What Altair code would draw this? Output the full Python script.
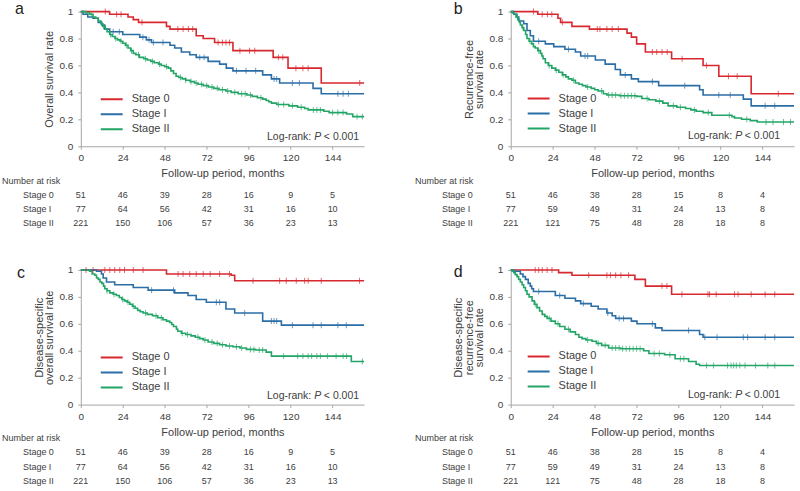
import altair as alt
import pandas as pd
from bisect import bisect_right

FONT = "Liberation Sans"
TEXT = "#404040"
AXIS = "#a6a6a6"

stages = ["Stage 0", "Stage I", "Stage II"]
stage_colors = ["#d7282f", "#2b6ea6", "#22a566"]

x_max = 162
x_ticks = [0, 24, 48, 72, 96, 120, 144]
y_ticks = [0, 0.2, 0.4, 0.6, 0.8, 1]
risk_times = [0, 24, 48, 72, 96, 120, 144]

# ---- a: overall survival (month, survival after the step) ----
a_stage0 = [(0, 1.0), (16.5, 0.98), (27, 0.96), (30, 0.94), (33, 0.92), (49, 0.89), (51, 0.87),
            (66, 0.82), (70, 0.80), (76.5, 0.77), (87, 0.71), (110, 0.66), (118.5, 0.58), (137.5, 0.47)]
a_cens0 = [14, 20.5, 23, 35, 55.5, 58.5, 61.5, 64, 78.5, 81, 83, 85, 91, 96.5, 99.5, 113, 115.5,
           123, 127, 130, 159.5]
a_stage1 = [(0, 1.0), (1.3, 0.98), (4, 0.96), (7, 0.95), (10, 0.92), (12, 0.90), (13.7, 0.87),
            (16.5, 0.85), (24, 0.83), (33.7, 0.81), (37.5, 0.79), (40.4, 0.77), (51, 0.75), (53.7, 0.73),
            (57.5, 0.70), (62.3, 0.68), (66, 0.66), (72.8, 0.63), (79.4, 0.61), (83.2, 0.58), (87, 0.56),
            (104, 0.53), (109, 0.50), (113.7, 0.47), (132.8, 0.43), (137.5, 0.39)]
a_cens1 = [18.5, 22, 35.5, 39, 41.5, 47, 68, 70.5, 89, 94.5, 100, 110.5, 112, 121, 125, 147, 150, 153]
a_stage2 = [(0, 1.0), (3, 0.99), (5, 0.98), (7, 0.96), (8.5, 0.95), (10, 0.93), (11.5, 0.91), (12.5, 0.89),
            (14, 0.87), (15, 0.85), (16.5, 0.83), (18, 0.815), (19.5, 0.80), (21, 0.79), (22.5, 0.78),
            (24, 0.765), (25.5, 0.75), (27, 0.73), (28.5, 0.71), (30, 0.69), (31.5, 0.68), (33.5, 0.66),
            (36, 0.65), (38, 0.64), (40, 0.63), (42, 0.62), (44.5, 0.61), (46, 0.60), (48, 0.59), (50, 0.58),
            (51.5, 0.56), (53, 0.54), (54.5, 0.52), (56, 0.51), (58, 0.50), (60, 0.49), (62.5, 0.48),
            (65, 0.47), (67, 0.46), (70, 0.45), (73, 0.44), (76, 0.43), (79, 0.42), (83, 0.41), (86, 0.40),
            (90, 0.39), (95, 0.38), (98, 0.37), (101, 0.36), (104, 0.35), (106, 0.34), (107.5, 0.33),
            (109, 0.32), (112, 0.31), (119, 0.30), (124, 0.29), (128, 0.28), (130, 0.27), (139, 0.26),
            (142, 0.25), (152, 0.24), (155.5, 0.22)]
a_cens2 = [6, 13, 17, 20, 23, 26, 29, 33, 37, 41, 45, 49, 57, 60, 63, 66, 69, 72, 75, 78, 81, 84, 88,
           92, 94, 97, 103, 113, 116, 121, 126, 133, 135, 137, 144, 147, 150, 158, 161]

# ---- b: recurrence-free survival ----
b_stage0 = [(0, 1.0), (15.5, 0.98), (27, 0.95), (28.5, 0.92), (35, 0.89), (45, 0.87), (66.5, 0.84),
            (69, 0.81), (72, 0.76), (77, 0.70), (92, 0.65), (110, 0.60), (119, 0.52), (137.5, 0.39)]
b_cens0 = [13, 18, 21, 23.5, 29.5, 49.5, 51, 55, 58, 61.5, 81, 83.5, 86.5, 89.5, 98, 112, 124.5,
           129.5, 153]
b_stage1 = [(0, 1.0), (1.7, 0.98), (3.6, 0.96), (4.6, 0.93), (7.4, 0.91), (9.3, 0.86), (11.2, 0.82),
            (13, 0.78), (19.8, 0.76), (24.6, 0.74), (31, 0.72), (37, 0.70), (40, 0.67), (48.4, 0.64),
            (54, 0.61), (59.8, 0.57), (62.7, 0.53), (69, 0.50), (73, 0.48), (84.6, 0.45), (108, 0.42),
            (110, 0.38), (133, 0.35), (137.5, 0.30)]
b_cens1 = [16, 33, 42.5, 44, 65.5, 81, 99.5, 119, 125.5, 145.5, 151]
b_stage2 = [(0, 1.0), (1, 0.99), (2, 0.98), (3, 0.96), (4, 0.94), (5, 0.92), (5.5, 0.90), (6.5, 0.88),
            (7.5, 0.86), (8.5, 0.83), (9.3, 0.80), (10.5, 0.78), (12, 0.76), (13, 0.74), (14, 0.73),
            (15.5, 0.71), (17, 0.69), (17.8, 0.67), (18.5, 0.65), (19.8, 0.62), (21.5, 0.60), (23.5, 0.58),
            (25.5, 0.565), (27.5, 0.55), (29.5, 0.53), (31.5, 0.515), (33, 0.50), (35, 0.49), (37, 0.47),
            (39, 0.46), (41, 0.45), (43, 0.44), (46, 0.43), (48, 0.42), (50, 0.41), (53, 0.39), (55, 0.38),
            (62, 0.375), (72, 0.37), (75, 0.355), (79, 0.345), (83, 0.335), (87, 0.32), (90, 0.30),
            (95, 0.29), (100, 0.28), (103, 0.27), (106, 0.26), (110, 0.25), (115, 0.23), (126.5, 0.22),
            (128, 0.21), (132, 0.20), (137, 0.19), (141, 0.18)]
b_cens2 = [7, 11, 16, 22, 26, 30, 36, 44, 52, 56, 58, 60, 63, 65, 67, 69, 71, 78, 85, 93, 97, 105,
           113, 125, 135, 146, 150, 156, 160]

# ---- c: disease-specific overall survival ----
c_stage0 = [(0, 1.0), (49, 0.97), (86, 0.96), (88, 0.92)]
c_cens0 = [3, 7, 13.7, 16.6, 19.4, 22.3, 25, 30, 35.6, 55.6, 58.5, 62.3, 66, 70, 74, 79.4, 85, 98.5,
           113.7, 117.5, 123.2, 128, 130, 137.5, 159.4]
c_stage1 = [(0, 1.0), (9, 0.99), (11.8, 0.97), (12.8, 0.94), (14.7, 0.91), (19.4, 0.89), (30, 0.87),
            (38.5, 0.85), (53.7, 0.83), (61.3, 0.81), (66, 0.78), (71.8, 0.76), (83, 0.71), (88, 0.68),
            (104, 0.62), (114.7, 0.59)]
c_cens1 = [40.5, 53, 77.5, 79.4, 93.7, 109, 110.5, 112, 121, 132.8, 137.5, 147, 151.8]
c_stage2 = [(0, 1.0), (5, 0.99), (6.5, 0.97), (8, 0.96), (9, 0.94), (10, 0.93), (11, 0.91), (12, 0.90),
            (13, 0.88), (13.7, 0.86), (15, 0.845), (16.6, 0.83), (18.5, 0.82), (20.4, 0.81), (22, 0.795),
            (23.5, 0.78), (25, 0.77), (26.5, 0.76), (28, 0.745), (29.5, 0.73), (31, 0.715), (32.5, 0.70),
            (34, 0.69), (35.6, 0.68), (38, 0.67), (41, 0.66), (44, 0.645), (47, 0.63), (49, 0.62),
            (50.8, 0.61), (52, 0.595), (53, 0.58), (54.7, 0.56), (55.5, 0.545), (57.5, 0.53), (60, 0.52),
            (63, 0.51), (65.5, 0.50), (68, 0.49), (70, 0.48), (72.8, 0.465), (76, 0.455), (79.4, 0.445),
            (83, 0.435), (87, 0.43), (91, 0.42), (94.7, 0.41), (100, 0.405), (106, 0.39), (109, 0.36),
            (154.7, 0.32)]
c_cens2 = [15, 19, 24, 27, 30, 37, 43, 46, 58, 61, 67, 71, 75, 78, 81, 85, 89, 92, 97, 99, 102, 104,
           116, 124, 127, 130, 132, 135, 137, 141, 146, 150, 152, 161]

# ---- d: disease-specific recurrence-free survival ----
d_stage0 = [(0, 1.0), (27.4, 0.98), (35, 0.96), (71, 0.93), (77, 0.88), (92, 0.82)]
d_cens0 = [14, 16, 18, 20.8, 23.6, 44.6, 55, 57, 60, 63, 67.4, 86.5, 89.3, 97.9, 112.8, 113.7, 117.5,
           128, 130, 137.5, 145.5, 151]
d_stage1 = [(0, 1.0), (1.7, 0.99), (5.5, 0.97), (7, 0.95), (8.4, 0.93), (10, 0.90), (11.2, 0.88),
            (12, 0.86), (13, 0.84), (25.5, 0.81), (31, 0.79), (37, 0.77), (40, 0.75), (46, 0.73),
            (50, 0.71), (55, 0.68), (58, 0.66), (60, 0.64), (69, 0.62), (72.2, 0.60), (82.7, 0.57),
            (86.5, 0.55), (108, 0.52), (110, 0.50)]
d_cens1 = [16, 28, 41.5, 55.5, 62, 64.5, 81, 101.7, 111, 118, 133, 135.5, 145.5, 151]
d_stage2 = [(0, 1.0), (0.8, 0.99), (1.7, 0.98), (2.6, 0.965), (3.6, 0.95), (4.5, 0.93), (5.5, 0.91),
            (6.5, 0.89), (7.4, 0.87), (8.4, 0.845), (9.3, 0.82), (10.5, 0.80), (12.2, 0.77), (13.5, 0.745),
            (15, 0.72), (16.5, 0.695), (18, 0.67), (19.5, 0.655), (20.8, 0.64), (23, 0.62), (25.5, 0.60),
            (28, 0.58), (31, 0.56), (34, 0.54), (37, 0.52), (39, 0.50), (40.8, 0.49), (43, 0.48),
            (46.5, 0.47), (49, 0.455), (52, 0.44), (56, 0.42), (63, 0.415), (76, 0.40), (79, 0.38),
            (88, 0.37), (94, 0.34), (101.7, 0.32), (106, 0.30), (108, 0.29)]
d_cens2 = [14, 22, 27, 33, 44, 50, 54, 58, 60, 62, 64, 66, 68, 70, 72, 74, 82, 85, 91, 97, 99, 112,
           116, 124, 126, 127.5, 129, 131, 134, 140, 147, 151]

# ---- numbers at risk ----
risk_a = [[51, 46, 39, 28, 16, 9, 5], [77, 64, 56, 42, 31, 16, 10], [221, 150, 106, 57, 36, 23, 13]]
risk_b = [[51, 46, 38, 28, 15, 8, 4], [77, 59, 49, 31, 24, 13, 8], [221, 121, 75, 48, 28, 18, 8]]
risk_c = [[51, 46, 39, 28, 16, 9, 5], [77, 64, 56, 42, 31, 16, 10], [221, 150, 106, 57, 36, 23, 13]]
risk_d = [[51, 46, 38, 28, 15, 8, 4], [77, 59, 49, 31, 24, 13, 8], [221, 121, 75, 48, 28, 18, 8]]

y_title_a = "Overall survival rate"
y_title_b = ["Recurrence-free", "survival rate"]
y_title_c = ["Disease-specific", "overall survival rate"]
y_title_d = ["Disease-specific", "recurrence-free", "survival rate"]

PLOT_W, PLOT_H = 284, 135


def curve_frames(steps_by_stage, censors_by_stage):
    lines, marks = [], []
    for stage, steps, cens in zip(stages, steps_by_stage, censors_by_stage):
        times = [t for t, _ in steps]
        for t, s in steps:
            lines.append({"stage": stage, "time": t, "surv": s})
        lines.append({"stage": stage, "time": x_max, "surv": steps[-1][1]})
        for c in cens:
            s = steps[bisect_right(times, c) - 1][1]
            marks.append({"stage": stage, "time": c, "surv": s})
    return pd.DataFrame(lines), pd.DataFrame(marks)


def text_layer(value, **mark_kw):
    return alt.Chart(pd.DataFrame({"label": [value]})).mark_text(font=FONT, **mark_kw)


def km_panel(letter, steps, censors, y_title, letter_pos, legend_pos, rank_pos):
    lines, marks = curve_frames(steps, censors)
    color_scale = alt.Scale(domain=stages, range=stage_colors)
    x = alt.X("time:Q", scale=alt.Scale(domain=[0, x_max], nice=False, zero=False),
              axis=alt.Axis(values=x_ticks, title="Follow-up period, months", labelFlush=False,
                            labelOverlap=False, labelPadding=3.5, titlePadding=5))
    y = alt.Y("surv:Q", scale=alt.Scale(domain=[0, 1], nice=False),
              axis=alt.Axis(values=y_ticks, format="~g", title=y_title, titlePadding=4,
                            labelPadding=5, labelOverlap=False, labelFlush=False,
                            labelBaseline="middle", labelLineHeight=10))
    curve = alt.Chart(lines).mark_line(interpolate="step-after", strokeWidth=1.6).encode(
        x=x, y=y,
        color=alt.Color("stage:N", scale=color_scale,
                        legend=alt.Legend(orient="none", legendX=legend_pos[0], legendY=legend_pos[1],
                                          title=None)))
    cens = alt.Chart(marks).mark_tick(orient="vertical", size=6, thickness=1).encode(
        x=x, y=y, color=alt.Color("stage:N", scale=color_scale, legend=None))
    tag = text_layer(letter, align="left", baseline="alphabetic", fontSize=16, color="#222222").encode(
        text="label:N", x=alt.value(letter_pos[0]), y=alt.value(letter_pos[1]))
    xr, yr = rank_pos
    rank1 = text_layer("Log-rank:", align="right", baseline="middle", fontSize=10.5, color=TEXT).encode(
        text="label:N", x=alt.value(xr - 48), y=alt.value(yr))
    rank2 = text_layer("P", align="right", baseline="middle", fontSize=10.5, fontStyle="italic",
                       color=TEXT).encode(text="label:N", x=alt.value(xr - 38), y=alt.value(yr))
    rank3 = text_layer("< 0.001", align="right", baseline="middle", fontSize=10.5, color=TEXT).encode(
        text="label:N", x=alt.value(xr), y=alt.value(yr))
    return alt.layer(curve, cens, tag, rank1, rank2, rank3).properties(width=PLOT_W, height=PLOT_H)


def risk_panel(counts, stage_x, header_x, row_range, height):
    rows = ["Number at risk"] + stages
    recs = [{"row": st, "time": t, "n": str(n)}
            for st, vals in zip(stages, counts) for t, n in zip(risk_times, vals)]
    x = alt.X("time:Q", scale=alt.Scale(domain=[0, x_max], nice=False, zero=False), axis=None)
    y = alt.Y("row:N", scale=alt.Scale(type="point", domain=rows, range=row_range, padding=0), axis=None)
    nums = alt.Chart(pd.DataFrame(recs)).mark_text(font=FONT, fontSize=9, color=TEXT,
                                                   baseline="middle").encode(x=x, y=y, text="n:N")
    names = alt.Chart(pd.DataFrame({"row": stages})).mark_text(
        font=FONT, fontSize=9, color=TEXT, align="left", baseline="middle").encode(
        x=alt.value(stage_x), y=y, text="row:N")
    header = alt.Chart(pd.DataFrame({"row": ["Number at risk"]})).mark_text(
        font=FONT, fontSize=9, color=TEXT, align="left", baseline="middle").encode(
        x=alt.value(header_x), y=y, text="row:N")
    return alt.layer(nums, names, header).properties(width=PLOT_W, height=height)


km_a = km_panel("a", [a_stage0, a_stage1, a_stage2], [a_cens0, a_cens1, a_cens2], y_title_a,
                (-66, 2), (19, 80.75), (279, 126))
km_b = km_panel("b", [b_stage0, b_stage1, b_stage2], [b_cens0, b_cens1, b_cens2], y_title_b,
                (-57, 2), (16, 80), (270, 125))
km_c = km_panel("c", [c_stage0, c_stage1, c_stage2], [c_cens0, c_cens1, c_cens2], y_title_c,
                (-64, 8), (19, 80.5), (279, 126))
km_d = km_panel("d", [d_stage0, d_stage1, d_stage2], [d_cens0, d_cens1, d_cens2], y_title_d,
                (-57, 7), (16, 79.5), (270, 125))

tab_a = risk_panel(risk_a, -58, -79, [15, 57], 84)
tab_b = risk_panel(risk_b, -69, -96, [15, 57], 84)
tab_c = risk_panel(risk_c, -58, -79, [13, 57], 60)
tab_d = risk_panel(risk_d, -69, -96, [13, 57], 60)

chart = alt.concat(
    km_a, km_b, tab_a, tab_b, km_c, km_d, tab_c, tab_d,
    columns=2, spacing={"row": 20, "column": 147}, bounds="flush",
).resolve_legend(color="independent").properties(
    padding={"left": 2, "top": 0, "right": 2, "bottom": 2},
    background="white",
).configure(font=FONT).configure_view(stroke=None).configure_axis(
    grid=False, domainColor=AXIS, tickColor=AXIS, tickSize=3, domainWidth=1, tickWidth=1,
    labelFont=FONT, labelFontSize=10, labelColor=TEXT,
    titleFont=FONT, titleFontSize=11, titleFontWeight="normal", titleColor=TEXT, titleLineHeight=10.5,
).configure_legend(
    symbolType="stroke", symbolSize=484, symbolStrokeWidth=2, clipHeight=14.5, rowPadding=0,
    padding=0, labelOffset=8, labelFont=FONT, labelFontSize=11, labelColor=TEXT,
)

chart.save("out.html", embed_options={"renderer": "svg", "actions": False})
